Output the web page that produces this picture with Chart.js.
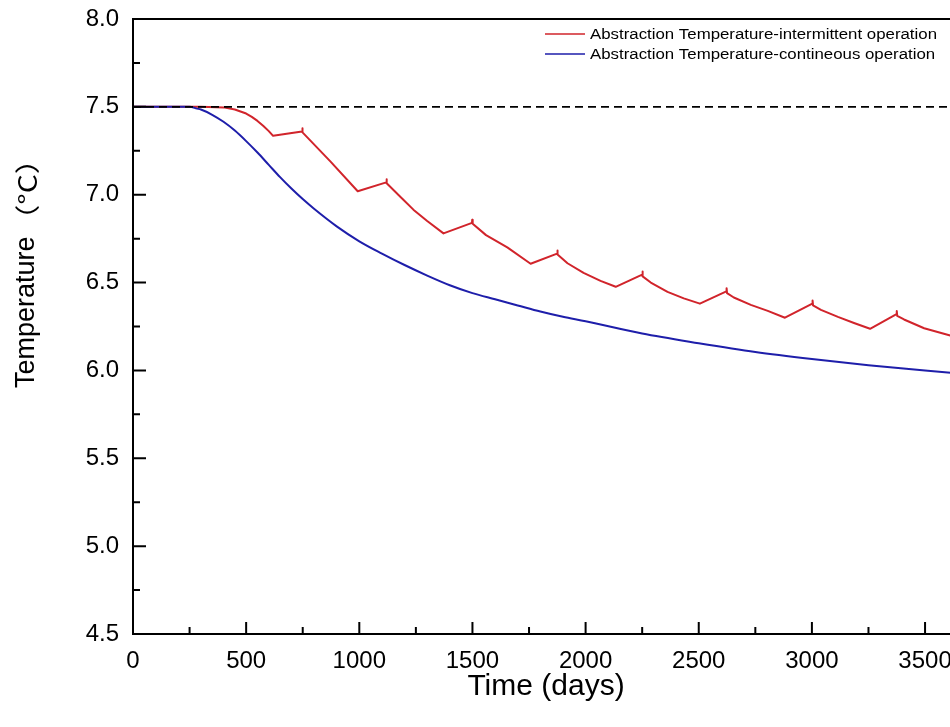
<!DOCTYPE html>
<html>
<head>
<meta charset="utf-8">
<script src="https://cdn.jsdelivr.net/npm/chart.js@4/dist/chart.umd.min.js"></script>
<style>
html,body{margin:0;padding:0;background:#fff;overflow:hidden;}
canvas{display:block;}
</style>
</head>
<body>
<canvas id="c" width="1000" height="727"></canvas>
<script>
// ---- data ----
const intermittentDays = [0,300,400,450,500,525,550,575,600,619,747,748,750,872,993,1119,1120,1122,1180,1239,1300,1372,1498,1499,1501,1560,1654,1757,1874,1875,1877,1920,1991,2066,2133,2250,2251,2253,2288,2362,2434,2505,2622,2623,2625,2655,2730,2805,2881,3002,3003,3005,3040,3115,3186,3257,3374,3375,3377,3407,3496,3615,3633,3650];
const intermittentTemp = [7.5,7.5,7.497,7.485,7.462,7.443,7.42,7.393,7.362,7.335,7.36,7.378,7.355,7.19,7.02,7.07,7.088,7.065,6.99,6.915,6.85,6.78,6.84,6.858,6.835,6.77,6.70,6.607,6.665,6.683,6.66,6.61,6.555,6.51,6.476,6.545,6.563,6.535,6.50,6.447,6.41,6.38,6.45,6.468,6.44,6.415,6.373,6.339,6.30,6.38,6.398,6.37,6.345,6.305,6.27,6.237,6.32,6.338,6.31,6.29,6.24,6.197,6.19,6.20];
const continuousDays = [0,250,283,300,350,400,450,500,550,600,650,700,750,800,900,1000,1100,1200,1300,1400,1500,1600,1700,1800,1900,2000,2250,2500,2750,3000,3250,3500,3650];
const continuousTemp = [7.5,7.5,7.49,7.485,7.455,7.415,7.365,7.305,7.24,7.17,7.10,7.035,6.975,6.92,6.82,6.735,6.665,6.60,6.54,6.485,6.44,6.405,6.37,6.335,6.305,6.28,6.21,6.155,6.105,6.065,6.03,6.0,5.982];
const referenceDays = [0,3650];
const referenceTemp = [7.5,7.5];
const xTicks = [0,500,1000,1500,2000,2500,3000,3500];
const yTicks = [4.5,5.0,5.5,6.0,6.5,7.0,7.5,8.0];
const seriesNames = ['Abstraction Temperature-intermittent operation','Abstraction Temperature-contineous operation'];
const xTitle = 'Time (days)';
const yTitleMain = 'Temperature';
const yTitleUnit = '（°C）';

const RED = '#d1242b';
const BLUE = '#1e1eaa';
const FONT = "'Liberation Sans', Arial, 'Noto Sans CJK SC', sans-serif";

const toPts = (xs, ys) => xs.map((x, i) => ({x: x, y: ys[i]}));

const framePlugin = {
  id: 'frameTicks',
  afterDraw(chart) {
    const ctx = chart.ctx, a = chart.chartArea;
    const xs = chart.scales.x, ys = chart.scales.y;
    ctx.save();
    ctx.strokeStyle = '#000';
    ctx.lineWidth = 2;
    ctx.strokeRect(a.left, a.top, a.right - a.left, a.bottom - a.top);
    ctx.beginPath();
    // x ticks (inward)
    for (let i = 0; i < xTicks.length; i++) {
      const px = xs.getPixelForValue(xTicks[i]);
      ctx.moveTo(px, a.bottom); ctx.lineTo(px, a.bottom - 12);
      if (i < xTicks.length - 1) {
        const pm = xs.getPixelForValue((xTicks[i] + xTicks[i + 1]) / 2);
        ctx.moveTo(pm, a.bottom); ctx.lineTo(pm, a.bottom - 7);
      }
    }
    // y ticks (inward)
    for (let i = 0; i < yTicks.length; i++) {
      const py = ys.getPixelForValue(yTicks[i]);
      ctx.moveTo(a.left, py); ctx.lineTo(a.left + 13, py);
      if (i < yTicks.length - 1) {
        const pm = ys.getPixelForValue((yTicks[i] + yTicks[i + 1]) / 2);
        ctx.moveTo(a.left, pm); ctx.lineTo(a.left + 7, pm);
      }
    }
    ctx.stroke();

    // y axis title
    ctx.save();
    ctx.translate(27, 388);
    ctx.rotate(-Math.PI / 2);
    ctx.fillStyle = '#000';
    ctx.textAlign = 'left';
    ctx.textBaseline = 'middle';
    ctx.font = '27px ' + FONT;
    ctx.fillText(yTitleMain, 0, 0);
    const w1 = ctx.measureText(yTitleMain).width;
    ctx.font = "25px 'Noto Sans CJK SC', sans-serif";
    ctx.save();
    ctx.translate(w1 + 2, 0);
    ctx.scale(1.2, 1);
    ctx.fillText(yTitleUnit, 0, 0);
    ctx.restore();
    ctx.restore();

    // legend
    const colors = [RED, BLUE];
    ctx.font = '14px ' + FONT;
    const w = ctx.measureText(seriesNames[0]).width;
    const sx = 347 / w;
    for (let i = 0; i < 2; i++) {
      const y = 34 + i * 20;
      ctx.strokeStyle = colors[i];
      ctx.lineWidth = 1.5;
      ctx.beginPath(); ctx.moveTo(545, y); ctx.lineTo(585, y); ctx.stroke();
      ctx.save();
      ctx.translate(590, y);
      ctx.scale(sx, 1);
      ctx.fillStyle = '#000';
      ctx.textBaseline = 'middle';
      ctx.textAlign = 'left';
      ctx.fillText(seriesNames[i], 0, 1);
      ctx.restore();
    }
    ctx.restore();
  }
};

new Chart(document.getElementById('c'), {
  type: 'line',
  data: {
    datasets: [
      {label: 'ref', data: toPts(referenceDays, referenceTemp), borderColor: '#000', borderWidth: 1.8, borderDash: [8, 5], pointRadius: 0, tension: 0},
      {label: seriesNames[1], data: toPts(continuousDays, continuousTemp), borderColor: BLUE, borderWidth: 2, pointRadius: 0, cubicInterpolationMode: 'monotone'},
      {label: seriesNames[0], data: toPts(intermittentDays, intermittentTemp), borderColor: RED, borderWidth: 2, pointRadius: 0, tension: 0, borderJoinStyle: 'round'}
    ]
  },
  options: {
    responsive: false,
    animation: false,
    layout: {padding: {top: 19, right: 41, left: 0, bottom: 0}},
    plugins: {legend: {display: false}, tooltip: {enabled: false}},
    scales: {
      x: {
        type: 'linear', min: 0, max: 3650,
        afterBuildTicks: s => { s.ticks = xTicks.map(v => ({value: v})); },
        afterFit: s => { s.height = 93; s.paddingLeft = 0; s.paddingRight = 0; },
        grid: {display: false, drawTicks: false},
        border: {display: false},
        ticks: {color: '#000', padding: 13, autoSkip: false, maxRotation: 0, font: {family: FONT, size: 24}, callback: v => String(v)},
        title: {display: true, text: xTitle, color: '#000', font: {family: FONT, size: 30}, padding: {top: 0, bottom: 22}}
      },
      y: {
        type: 'linear', min: 4.5, max: 8.0,
        afterBuildTicks: s => { s.ticks = yTicks.map(v => ({value: v})); },
        afterFit: s => { s.width = 133; s.paddingTop = 0; s.paddingBottom = 0; },
        grid: {display: false, drawTicks: false},
        border: {display: false},
        ticks: {color: '#000', padding: 14, autoSkip: false, font: {family: FONT, size: 24}, callback: v => Number(v).toFixed(1)},
        title: {display: false}
      }
    }
  },
  plugins: [framePlugin]
});
</script>
</body>
</html>
